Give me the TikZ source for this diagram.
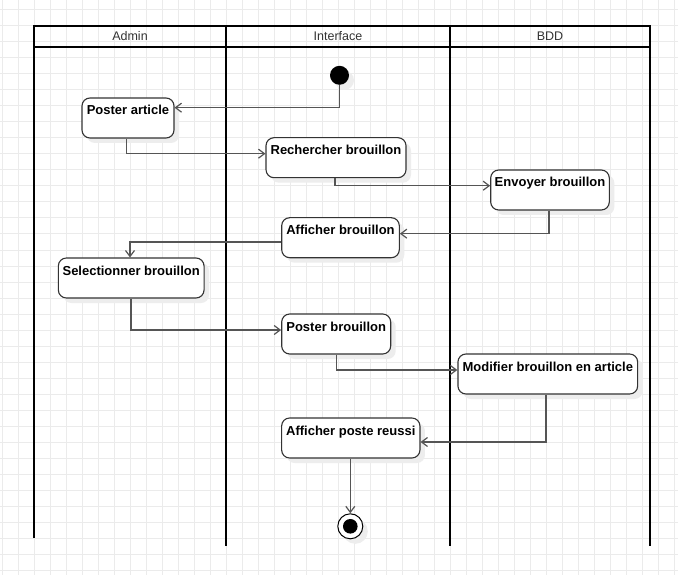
\documentclass[tikz,border=0pt]{standalone}
\usepackage{fontspec}
\setmainfont{Liberation Sans}
\usetikzlibrary{arrows.meta,shadows}
\definecolor{gridc}{HTML}{EBEBEB}
\definecolor{edgec}{HTML}{555555}
\definecolor{boxc}{HTML}{333333}
\begin{document}
\begin{tikzpicture}[x=1pt,y=-1pt,
  lane/.style={line width=2pt,black},
  lanetitle/.style={font=\fontsize{12.5}{14}\selectfont, text=boxc},
  shade/.style={drop shadow={shadow xshift=5pt,shadow yshift=-5pt,fill=black!7,opacity=1}},
  action/.style={draw=boxc, line width=1.1pt, rounded corners=8pt, fill=white, shade,
    inner xsep=0pt, inner ysep=0pt, text height=17pt, text depth=23pt,
    font=\bfseries\fontsize{13}{15}\selectfont},
  flow/.style={draw=edgec, line width=1.2pt, -{Straight Barb[length=6pt,width=9pt]}}
]
% canvas and grid
\useasboundingbox (0,0) rectangle (678,575);
\fill[white] (0,0) rectangle (678,575);
\foreach \k in {0,...,42} \draw[gridc, line width=1pt] (2.7+16*\k,0) -- (2.7+16*\k,575);
\foreach \k in {0,...,35} \draw[gridc, line width=1pt] (0,10+16*\k) -- (678,10+16*\k);

% swimlanes
\draw[lane] (34,25.7) rectangle (650,46.7);
\draw[lane] (34,25.7) -- (34,538);
\draw[lane] (226,25.7) -- (226,546);
\draw[lane] (450,25.7) -- (450,546);
\draw[lane] (650,25.7) -- (650,546);
\node[lanetitle] (tadmin) at (130,36.2) {Admin};
\node[lanetitle] (tinter) at (338,36.2) {Interface};
\node[lanetitle] (tbdd) at (550,36.2) {BDD};

% initial state
\node[circle, fill=black, minimum size=19pt, inner sep=0pt, shade] (start) at (339.5,75.3) {};

% actions
\node[action, minimum width=92pt]    (post) at (128,118)   {Poster article};
\node[action, minimum width=140pt]   (rech) at (336,157.7) {Rechercher brouillon};
\node[action, minimum width=118.6pt] (env)  at (550,190)   {Envoyer brouillon};
\node[action, minimum width=117.6pt] (aff)  at (340.5,237.7) {Afficher brouillon};
\node[action, minimum width=145.7pt] (sel)  at (131.2,278) {Selectionner brouillon};
\node[action, minimum width=109pt]   (pbr)  at (336.2,334) {Poster brouillon};
\node[action, minimum width=179.7pt] (mod)  at (547.8,374) {Modifier brouillon en article};
\node[action, minimum width=138.3pt] (aps)  at (350.8,438) {Afficher poste reussi};

% final state
\node[circle, draw=black, line width=1pt, fill=white, minimum size=25pt, inner sep=0pt, shade] (fin) at (350.3,526.3) {};
\fill[black] (fin.center) circle (7.3pt);

% control flow
\draw[flow] (start.south) |- ([yshift=10.3pt]post.east);
\draw[flow] ([xshift=-1.3pt]post.south) |- ([yshift=4pt]rech.west);
\draw[flow] ([xshift=-1pt]rech.south) |- ([yshift=4.3pt]env.west);
\draw[flow] ([xshift=-1pt]env.south) |- ([yshift=4pt]aff.east);
\draw[flow] ([yshift=-4.3pt]aff.west) -| ([xshift=-1.2pt]sel.north);
\draw[flow] ([xshift=-0.2pt]sel.south) |- ([yshift=4pt]pbr.west);
\draw[flow] (pbr.south) |- ([yshift=4pt]mod.west);
\draw[flow] ([xshift=-1.8pt]mod.south) |- ([yshift=-4pt]aps.east);
\draw[flow] (fin.north |- aps.south) -- (fin.north);
\end{tikzpicture}
\end{document}
